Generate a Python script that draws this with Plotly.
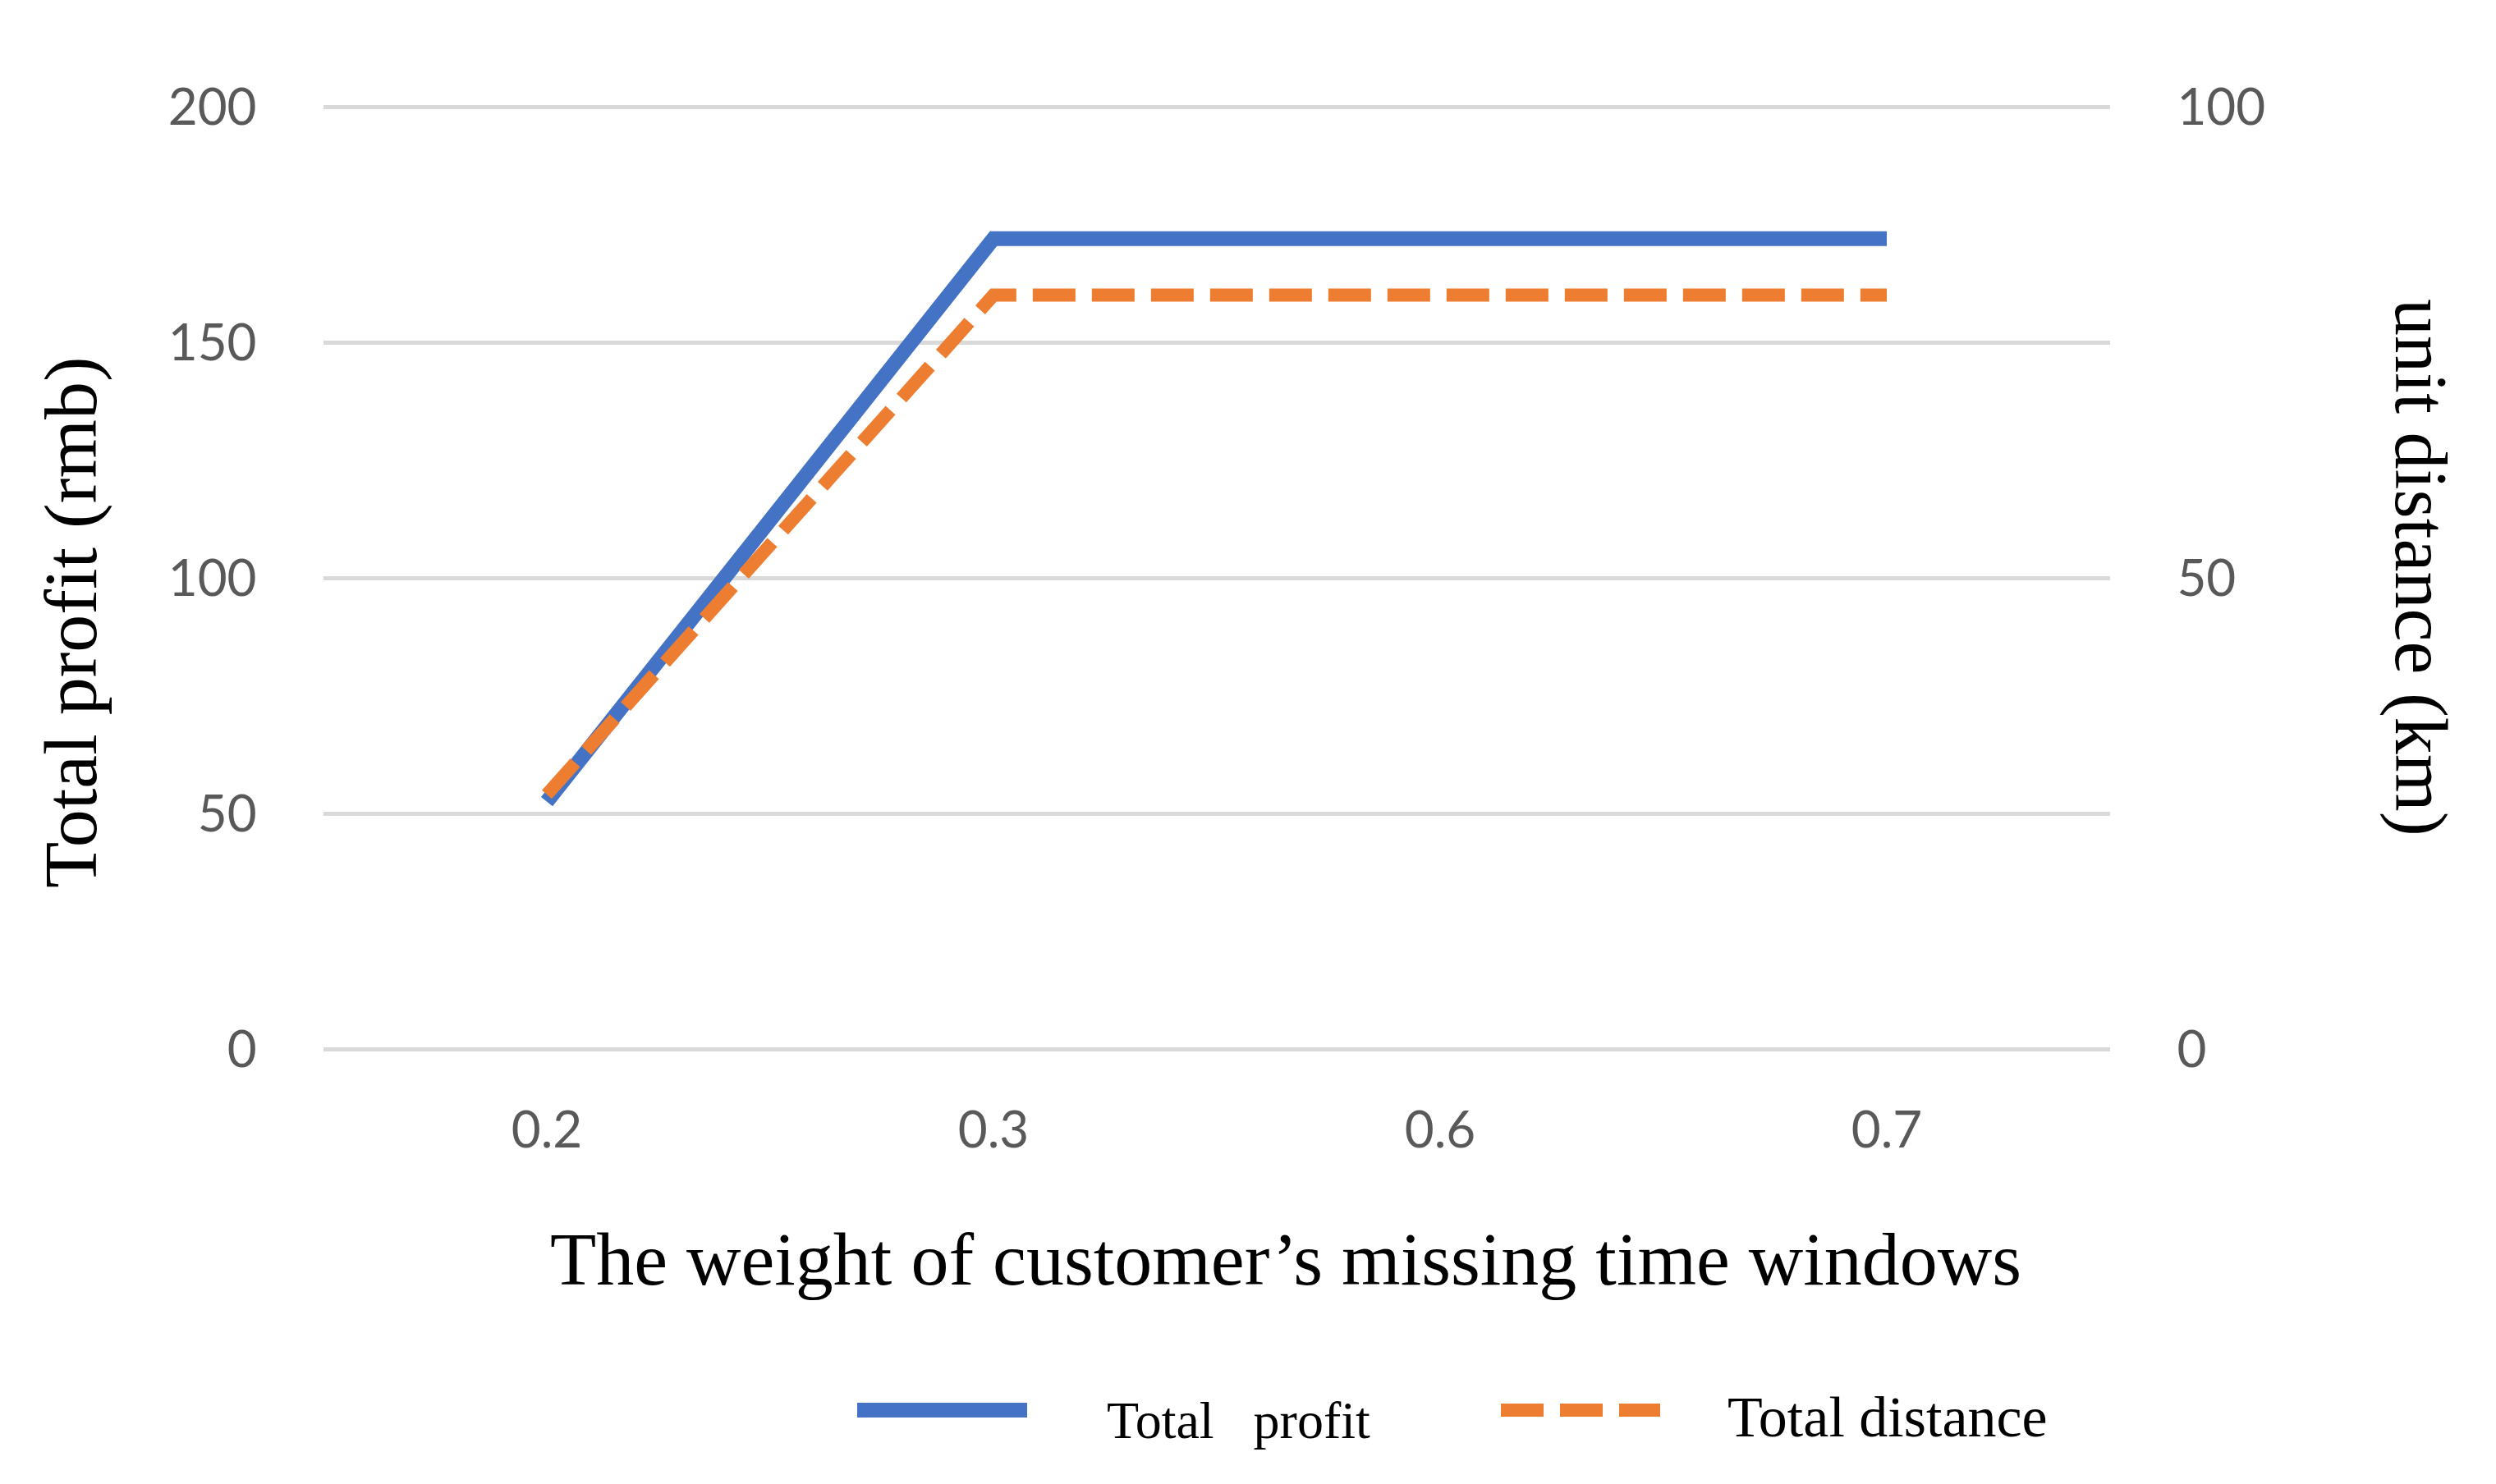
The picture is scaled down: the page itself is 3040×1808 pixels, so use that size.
import plotly.graph_objects as go

categories = ["0.2", "0.3", "0.6", "0.7"]
total_profit = [52.5, 172, 172, 172]
total_distance = [27, 80, 80, 80]
left_ticks = [0, 50, 100, 150, 200]
right_ticks = [0, 50, 100]

BLUE = "#4472C4"
ORANGE = "#ED7D31"
GRID = "#D9D9D9"
TICK = "#595959"
SERIF = "Liberation Serif, DejaVu Serif, serif"
SANS = "Lato, Open Sans, sans-serif"

fig = go.Figure()
fig.add_trace(go.Scatter(x=categories, y=total_profit, mode="lines", name="Total   profit",
                         line=dict(color=BLUE, width=18), yaxis="y", showlegend=False))
fig.add_trace(go.Scatter(x=categories, y=total_distance, mode="lines", name="Total distance",
                         line=dict(color=ORANGE, width=16, dash="52px,20px"), yaxis="y2", showlegend=False))

W, H = 3040, 1808
L, R, T, B = 386, 478, 120, 536
pw, ph = W - L - R, H - T - B
# plot area padded by 2 px so edge gridlines are drawn
pad1 = 200 * 2 / (ph - 4)
pad2 = 100 * 2 / (ph - 4)

fig.update_layout(
    width=W, height=H,
    margin=dict(l=L, r=R, t=T, b=B),
    paper_bgcolor="white", plot_bgcolor="white",
    xaxis=dict(type="category", range=[-0.5, 3.5], showgrid=False, zeroline=False,
               showline=False, ticks="outside", ticklen=43, tickcolor="rgba(0,0,0,0)",
               tickfont=dict(family=SANS, size=62, color=TICK)),
    yaxis=dict(range=[-pad1, 200 + pad1], tickvals=left_ticks, showgrid=True, gridcolor=GRID,
               gridwidth=5, zeroline=False, showline=False, ticks="outside", ticklen=68,
               tickcolor="rgba(0,0,0,0)", tickfont=dict(family=SANS, size=62, color=TICK)),
    yaxis2=dict(range=[-pad2, 100 + pad2], tickvals=right_ticks, overlaying="y", side="right",
                showgrid=False, zeroline=False, showline=False, ticks="outside", ticklen=68,
                tickcolor="rgba(0,0,0,0)", tickfont=dict(family=SANS, size=62, color=TICK)),
    showlegend=False,
)

def px_x(x):
    return (x - L) / pw

def px_y(y):
    return (H - B - y) / ph

annotations = [
    dict(text="The weight of customer\u2019s missing time windows", x=px_x(1558), y=px_y(1526),
         xref="paper", yref="paper", showarrow=False, xanchor="center", yanchor="middle",
         font=dict(family=SERIF, size=92, color="black")),
    dict(text="Total profit (rmb)", x=px_x(78), y=px_y(750), xref="paper", yref="paper",
         showarrow=False, textangle=-90, xanchor="center", yanchor="middle",
         font=dict(family=SERIF, size=92, color="black")),
    dict(text="unit distance (km)", x=px_x(2940), y=px_y(683), xref="paper", yref="paper",
         showarrow=False, textangle=90, xanchor="center", yanchor="middle",
         font=dict(family=SERIF, size=90, color="black")),
    dict(text="Total   profit", x=px_x(1338), y=px_y(1722), xref="paper", yref="paper",
         showarrow=False, xanchor="left", yanchor="middle",
         font=dict(family=SERIF, size=64, color="black")),
    dict(text="Total distance", x=px_x(2094), y=px_y(1718), xref="paper", yref="paper",
         showarrow=False, xanchor="left", yanchor="middle",
         font=dict(family=SERIF, size=70, color="black")),
]
fig.update_layout(annotations=annotations)

fig.add_shape(type="line", xref="paper", yref="paper", x0=px_x(1036), x1=px_x(1243),
              y0=px_y(1710), y1=px_y(1710), line=dict(color=BLUE, width=18))
fig.add_shape(type="line", xref="paper", yref="paper", x0=px_x(1820), x1=px_x(2014),
              y0=px_y(1710), y1=px_y(1710), line=dict(color=ORANGE, width=16, dash="52px,20px"))

fig.write_html("out.html")
